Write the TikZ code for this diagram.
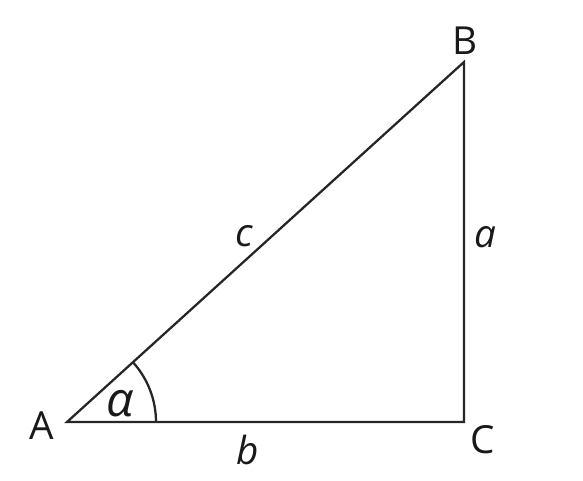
\documentclass[tikz,border=0pt]{standalone}
\usepackage{fontspec}
\setmainfont{Open Sans}
\usepackage{tikz}
\usetikzlibrary{positioning,calc}

\begin{document}
\begin{tikzpicture}[
    x=0.75pt, y=-0.75pt,
    side/.style={draw=black!85, line width=1.7pt, line join=miter},
    vname/.style={font=\fontsize{29}{30}\selectfont, text=black!90, inner sep=0pt},
    sname/.style={font=\fontsize{29}{30}\selectfont\itshape, text=black!90, inner sep=0pt}
]
    \useasboundingbox (0,0) rectangle (583,480);

    % Vertices
    \coordinate (A) at (67,422);
    \coordinate (C) at (464,422);
    \coordinate (B) at (464,62);

    % Triangle
    \draw[side] (A) -- (C) -- (B) -- cycle;

    % Angle at A
    \draw[side] ($(A)+(89,0)$) arc[start angle=0, end angle=-42.2, radius=89];

    % Vertex labels
    \node[vname] (lA) at (42,426) {A};
    \node[vname] (lB) at (465,41) {B};
    \node[vname] (lC) at (483,440) {C};

    % Side labels
    \node[sname] (lc) at (244,236) {c};
    \node[sname] (la) at (485,237) {a};
    \node[sname] (lb) at (248,450) {b};
    \node[sname, font=\fontsize{36}{38}\selectfont\itshape] (lalpha) at (120,404) {α};
\end{tikzpicture}
\end{document}
